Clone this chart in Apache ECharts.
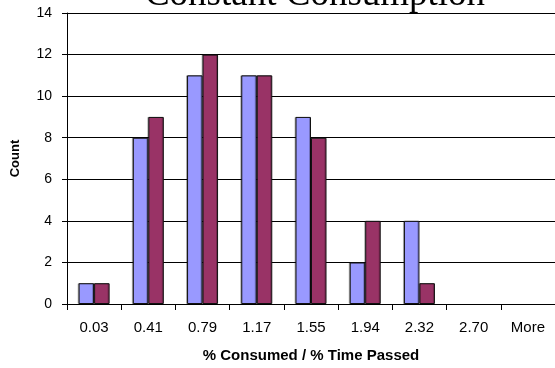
<!DOCTYPE html>
<html>
<head>
<meta charset="utf-8">
<style>
  html, body { margin: 0; padding: 0; background: #fff; }
  #chart { width: 555px; height: 368px; }
</style>
<script src="https://cdn.jsdelivr.net/npm/echarts@6/dist/echarts.min.js"></script>
</head>
<body>
<div id="chart"></div>
<script>
// Histogram bins (ratio of % consumed to % time passed)
const categories = ['0.03', '0.41', '0.79', '1.17', '1.55', '1.94', '2.32', '2.70', 'More'];
const seriesA = [1, 8, 11, 11, 9, 2, 4, 0, 0];
const seriesB = [1, 9, 12, 11, 8, 4, 1, 0, 0];
const yTicks = [0, 2, 4, 6, 8, 10, 12, 14];

const chart = echarts.init(document.getElementById('chart'), null, { renderer: 'canvas' });

const barStyle = (color) => ({
  color: color,
  borderColor: '#111',
  borderWidth: 1,
  shadowColor: 'rgba(0,0,0,0.25)',
  shadowOffsetX: -1,
  shadowOffsetY: 0,
  shadowBlur: 0
});

// Empty bins get no outline so nothing is drawn for them
const toBarData = (values) => values.map(v =>
  v === 0 ? { value: 0, itemStyle: { borderWidth: 0, shadowColor: 'transparent' } } : v
);

chart.setOption({
  animation: false,
  backgroundColor: '#fff',
  title: {
    text: 'Constant Consumption',
    left: 310,
    textAlign: 'center',
    top: -28,
    textStyle: {
      fontFamily: 'Liberation Serif',
      fontWeight: 'normal',
      fontSize: 37,
      color: '#000'
    }
  },
  grid: { left: 67, right: -6, top: 13, bottom: 64, containLabel: false },
  xAxis: {
    type: 'category',
    data: categories,
    boundaryGap: true,
    name: '% Consumed / % Time Passed',
    nameLocation: 'middle',
    nameGap: 44,
    nameTextStyle: {
      fontFamily: 'Liberation Sans',
      fontWeight: 'bold',
      fontSize: 15,
      color: '#000'
    },
    axisLine: { lineStyle: { color: '#000', width: 1 } },
    axisTick: { show: true, length: 6, lineStyle: { color: '#000' } },
    axisLabel: {
      fontFamily: 'Liberation Sans',
      fontSize: 15,
      color: '#000',
      margin: 16
    },
    splitLine: { show: false }
  },
  yAxis: {
    type: 'value',
    min: yTicks[0],
    max: yTicks[yTicks.length - 1],
    interval: 2,
    name: 'Count',
    nameLocation: 'middle',
    nameRotate: 90,
    nameGap: 45,
    nameTextStyle: {
      fontFamily: 'Liberation Sans',
      fontWeight: 'bold',
      fontSize: 13,
      color: '#000'
    },
    axisLine: { show: true, lineStyle: { color: '#000', width: 1 } },
    axisTick: { show: true, length: 5, lineStyle: { color: '#000' } },
    axisLabel: {
      fontFamily: 'Liberation Sans',
      fontSize: 14,
      color: '#000',
      margin: 15
    },
    splitLine: { show: true, lineStyle: { color: '#000', width: 1 } }
  },
  series: [
    {
      type: 'bar',
      data: toBarData(seriesA),
      barWidth: 15.5,
      barGap: '0%',
      itemStyle: barStyle('#9999FF')
    },
    {
      type: 'bar',
      data: toBarData(seriesB),
      barWidth: 15.5,
      barGap: '0%',
      itemStyle: barStyle('#993366')
    }
  ]
});
</script>
</body>
</html>
